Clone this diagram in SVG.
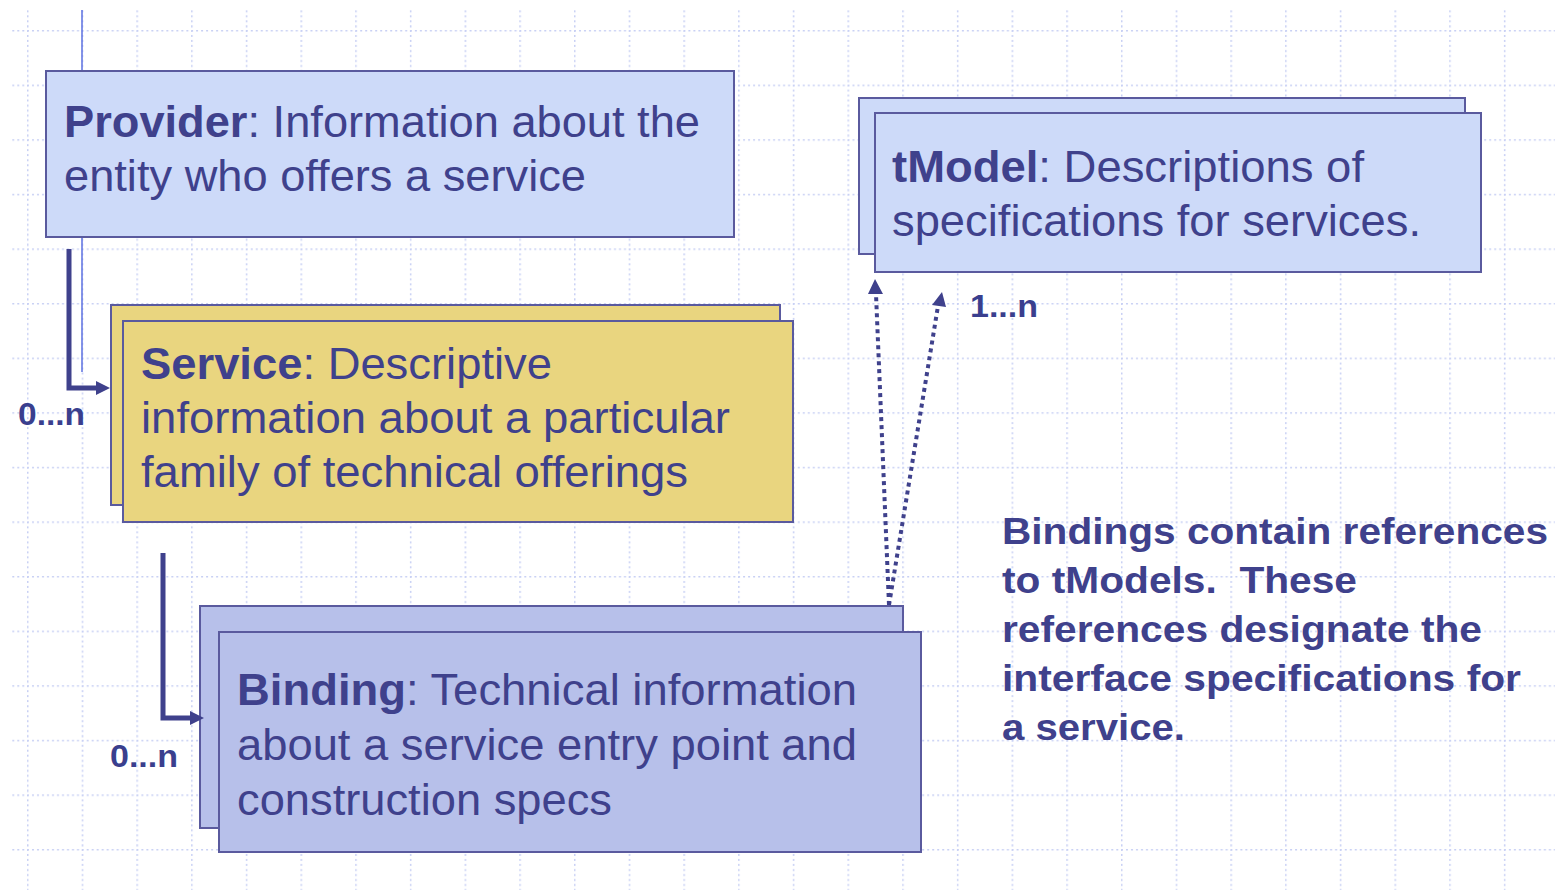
<svg xmlns="http://www.w3.org/2000/svg" width="1555" height="890" viewBox="0 0 1555 890">
<style>
.grid{stroke:#c8d0f4;stroke-width:1.5;stroke-dasharray:2 3;fill:none}
.box{stroke:#5a5a9e;stroke-width:2}
.prov{fill:#cddaf9}
.serv{fill:#e9d57f}
.bind{fill:#b7c0ea}
.t{font-family:"Liberation Sans",Arial,sans-serif;font-size:45px;fill:#3f418c}
.b{font-weight:bold}
.lbl{font-family:"Liberation Sans",Arial,sans-serif;font-size:31px;font-weight:bold;fill:#3a3f8e}
.note{font-family:"Liberation Sans",Arial,sans-serif;font-size:37px;font-weight:bold;fill:#3f418c}
.conn{stroke:#3f418c;stroke-width:5;fill:none}
.dot{stroke:#3f418c;stroke-width:4;stroke-dasharray:4 4;fill:none}
.head{fill:#3f418c}
</style>
<defs>
<pattern id="gp" patternUnits="userSpaceOnUse" x="27" y="30" width="54.7" height="54.6">
<line class="grid" x1="0.75" y1="0" x2="0.75" y2="54.6"/>
<line class="grid" x1="0" y1="0.75" x2="54.7" y2="0.75"/>
</pattern>
</defs>
<rect width="1555" height="890" fill="#ffffff"/>
<rect x="10" y="10" width="1545" height="880" fill="url(#gp)"/>
<line x1="82" y1="10" x2="82" y2="372" stroke="#5d70e0" stroke-width="1.5"/>

<g id="provider">
<rect class="box prov" x="46" y="71" width="688" height="166"/>
<text class="t" x="64" y="137" textLength="636" lengthAdjust="spacingAndGlyphs"><tspan class="b">Provider</tspan>: Information about the</text>
<text class="t" x="64" y="191" textLength="522" lengthAdjust="spacingAndGlyphs">entity who offers a service</text>
</g>

<g id="service">
<rect class="box serv" x="111" y="305" width="669" height="200"/>
<rect class="box serv" x="123" y="321" width="670" height="201"/>
<text class="t" x="141" y="379" textLength="411" lengthAdjust="spacingAndGlyphs"><tspan class="b">Service</tspan>: Descriptive</text>
<text class="t" x="141" y="433" textLength="589" lengthAdjust="spacingAndGlyphs">information about a particular</text>
<text class="t" x="141" y="487" textLength="547" lengthAdjust="spacingAndGlyphs">family of technical offerings</text>
</g>

<g id="binding">
<rect class="box bind" x="200" y="606" width="703" height="222"/>
<rect class="box bind" x="219" y="632" width="702" height="220"/>
<text class="t" x="237" y="705" textLength="620" lengthAdjust="spacingAndGlyphs"><tspan class="b">Binding</tspan>: Technical information</text>
<text class="t" x="237" y="760" textLength="620" lengthAdjust="spacingAndGlyphs">about a service entry point and</text>
<text class="t" x="237" y="815" textLength="375" lengthAdjust="spacingAndGlyphs">construction specs</text>
</g>

<g id="tmodel">
<rect class="box prov" x="859" y="98" width="606" height="156"/>
<rect class="box prov" x="875" y="113" width="606" height="159"/>
<text class="t" x="892" y="182" textLength="472" lengthAdjust="spacingAndGlyphs"><tspan class="b">tModel</tspan>: Descriptions of</text>
<text class="t" x="892" y="236" textLength="529" lengthAdjust="spacingAndGlyphs">specifications for services.</text>
</g>

<g id="connectors">
<polyline class="conn" points="69,249 69,388 98,388"/>
<polygon class="head" points="110,388 96,381 96,395"/>
<polyline class="conn" points="163,553 163,718 191,718"/>
<polygon class="head" points="204,718 190,711 190,725"/>
<line class="dot" x1="889" y1="605" x2="876" y2="294"/>
<polygon class="head" points="875,279 868,294 883,294"/>
<line class="dot" x1="889" y1="605" x2="938" y2="306"/>
<polygon class="head" points="942,292 932,305 946,307"/>
</g>

<g id="labels">
<text class="lbl" x="18" y="425" textLength="67" lengthAdjust="spacingAndGlyphs">0...n</text>
<text class="lbl" x="110" y="767" textLength="68" lengthAdjust="spacingAndGlyphs">0...n</text>
<text class="lbl" x="970" y="317" textLength="68" lengthAdjust="spacingAndGlyphs">1...n</text>
</g>

<g id="note">
<text class="note" x="1002" y="544" textLength="546" lengthAdjust="spacingAndGlyphs">Bindings contain references</text>
<text class="note" x="1002" y="593" textLength="355" lengthAdjust="spacingAndGlyphs">to tModels.&#160; These</text>
<text class="note" x="1002" y="642" textLength="480" lengthAdjust="spacingAndGlyphs">references designate the</text>
<text class="note" x="1002" y="691" textLength="519" lengthAdjust="spacingAndGlyphs">interface specifications for</text>
<text class="note" x="1002" y="740" textLength="183" lengthAdjust="spacingAndGlyphs">a service.</text>
</g>
</svg>
